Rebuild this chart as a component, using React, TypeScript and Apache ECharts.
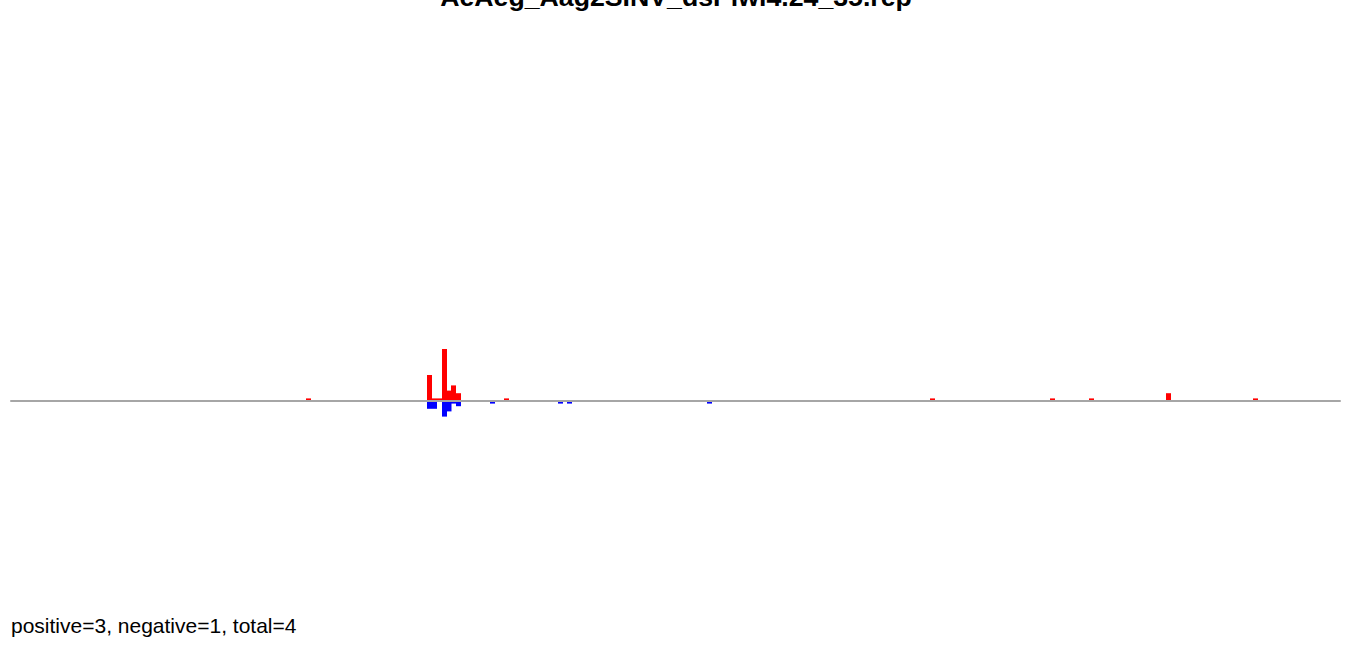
import React, { useEffect, useRef } from "react";
import * as echarts from "echarts";

const titleText = "AeAeg_Aag2SINV_dsPiwi4.24_35.rep";
const footerText = "positive=3, negative=1, total=4";

// positions along the sequence axis (axis spans 0..1329)
const positiveX = [297.5, 418.5, 423.5, 428.5, 433.5, 438, 442.5, 447.5, 495.5, 921.5, 1041.5, 1080.5, 1157.5, 1244.5];
const positiveY = [1, 10, 1, 1, 20, 4, 6, 3, 1, 1, 1, 1, 3, 1];
const negativeX = [418.5, 423.5, 433.5, 438, 442.5, 447.5, 481.5, 549.5, 558.5, 698.5];
const negativeY = [-3, -3, -6, -4, -1, -2, -1, -1, -1, -1];

const X_MIN = 0;
const X_MAX = 1329;
const Y_MIN = -80;
const Y_MAX = 150;

export default function App() {
  const ref = useRef<HTMLDivElement>(null);
  useEffect(() => {
    if (!ref.current) return;
    const chart = echarts.init(ref.current, null, { renderer: "svg" });
    chart.setOption({
      animation: false,
      backgroundColor: "#ffffff",
      grid: { left: 11, right: 12, top: 11, bottom: 36, containLabel: false },
      xAxis: {
        type: "value",
        min: X_MIN,
        max: X_MAX,
        z: 3,
        axisLine: { show: true, onZero: true, lineStyle: { color: "#a6a6a6", width: 2 } },
        axisTick: { show: false },
        axisLabel: { show: false },
        splitLine: { show: false },
      },
      yAxis: {
        type: "value",
        min: Y_MIN,
        max: Y_MAX,
        show: false,
        splitLine: { show: false },
      },
      series: [
        {
          name: "positive",
          type: "bar",
          barWidth: 5,
          barGap: "-100%",
          itemStyle: { color: "#ff0000" },
          data: positiveX.map((x, i) => [x, positiveY[i]]),
        },
        {
          name: "negative",
          type: "bar",
          barWidth: 5,
          barGap: "-100%",
          itemStyle: { color: "#0000ff" },
          data: negativeX.map((x, i) => [x, negativeY[i]]),
        },
      ],
      graphic: [
        {
          type: "text",
          left: "center",
          top: -17,
          style: {
            text: titleText,
            font: "bold 26.7px 'Liberation Sans', Arial, sans-serif",
            fill: "#000000",
          },
        },
        {
          type: "text",
          left: 11,
          top: 615,
          style: {
            text: footerText,
            font: "21px 'Liberation Sans', Arial, sans-serif",
            fill: "#000000",
          },
        },
      ],
    });
    return () => chart.dispose();
  }, []);
  return (
    <div
      ref={ref}
      style={{ position: "fixed", left: 0, top: 0, width: 1352, height: 645, background: "#fff" }}
    />
  );
}
